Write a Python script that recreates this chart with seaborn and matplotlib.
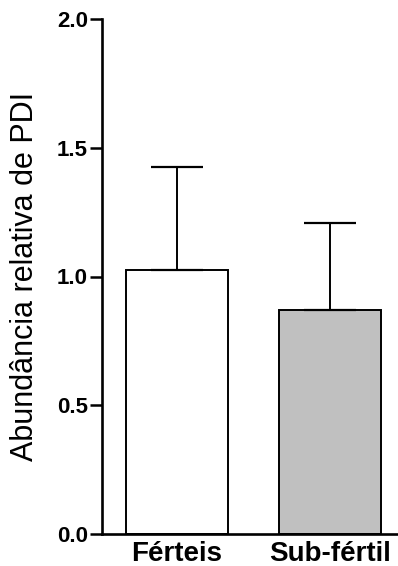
import matplotlib
matplotlib.use("Agg")
import matplotlib.pyplot as plt
import seaborn as sns
import pandas as pd

# data
groups = ["Férteis", "Sub-fértil"]
means = [1.025, 0.870]
errors = [0.400, 0.337]
colors = ["#ffffff", "#c0c0c0"]
y_ticks = [0.0, 0.5, 1.0, 1.5, 2.0]

df = pd.DataFrame({"grupo": groups, "abundancia": means})

sns.set_style("ticks")
plt.rcParams["font.family"] = ["Liberation Sans", "DejaVu Sans"]
plt.rcParams["text.color"] = "black"
plt.rcParams["axes.labelcolor"] = "black"
plt.rcParams["xtick.color"] = "black"
plt.rcParams["ytick.color"] = "black"

fig = plt.figure(figsize=(3.98, 5.66), dpi=100)
ax = fig.add_axes([102 / 398, 32 / 566, 296 / 398, 515 / 566])

sns.barplot(data=df, x="grupo", y="abundancia", hue="grupo", palette=colors,
            width=0.667, edgecolor="black", linewidth=1.4, errorbar=None,
            legend=False, ax=ax)

# one-sided error bars (upper only)
ax.errorbar(range(len(groups)), means, yerr=[[0] * len(errors), errors],
            fmt="none", ecolor="black", elinewidth=1.4, capsize=18.5,
            capthick=1.6, zorder=1)

ax.set_ylim(0, 2.0)
ax.set_xlim(-0.49, 1.444)
ax.set_yticks(y_ticks)
ax.set_yticklabels([f"{t:.1f}" for t in y_ticks], fontsize=16, fontweight="bold")
ax.set_xticks(range(len(groups)))
ax.set_xticklabels(groups, fontsize=20, fontweight="bold")
ax.tick_params(axis="y", length=9, width=1.8, pad=1, colors="black")
ax.tick_params(axis="x", length=0, pad=5, colors="black")
ax.set_xlabel("")
ax.set_ylabel("Abundância relativa de PDI", fontsize=22, color="black")
ax.yaxis.set_label_coords(-0.21, 0.5)

sns.despine(ax=ax)
for side in ["left", "bottom"]:
    ax.spines[side].set_linewidth(1.9)
    ax.spines[side].set_color("black")

fig.savefig("out.png", dpi=100)
